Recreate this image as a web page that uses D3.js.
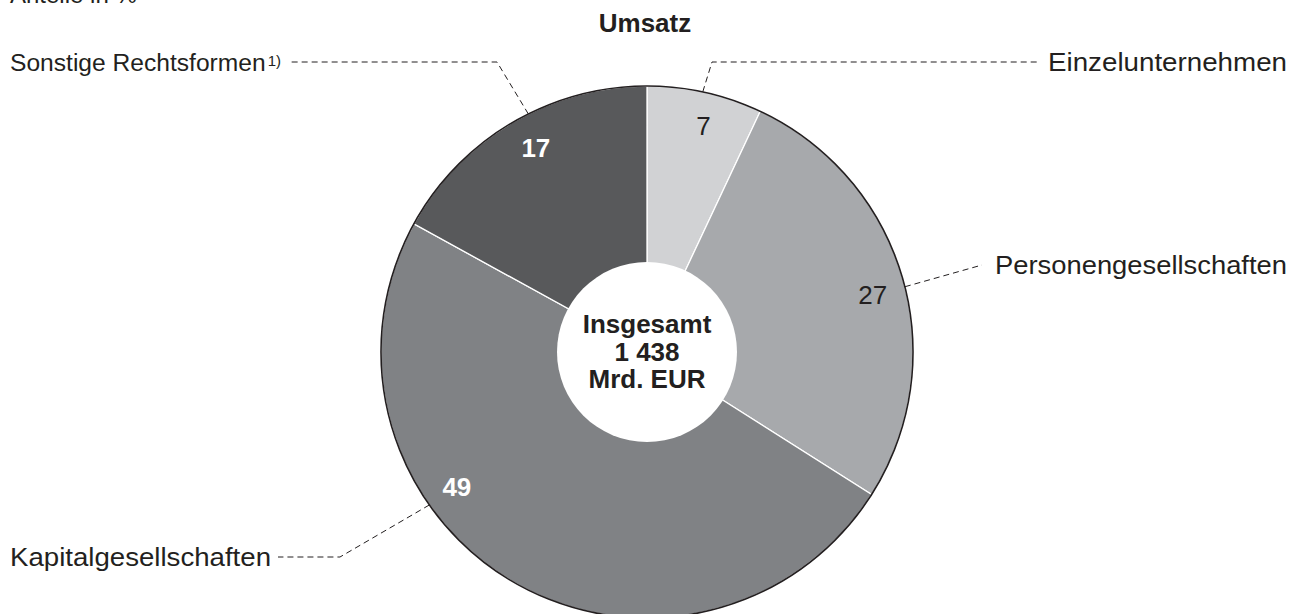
<!DOCTYPE html>
<html>
<head>
<meta charset="utf-8">
<script src="https://cdn.jsdelivr.net/npm/d3@7"></script>
<style>
  body { margin: 0; background: #fff; }
  text { font-family: "Liberation Sans", Arial, sans-serif; fill: #231f20; }
</style>
</head>
<body>
<div class="chart"></div>
<script>
// data
var categories = ["Einzelunternehmen", "Personengesellschaften", "Kapitalgesellschaften", "Sonstige Rechtsformen"];
var shares = [7, 27, 49, 17];
var colors = ["#d1d2d4", "#a7a9ac", "#808285", "#58595b"];
var title = "Umsatz";
var unitNote = "Anteile in %";
var centerLines = ["Insgesamt", "1 438", "Mrd. EUR"];
var footnoteMark = "1)";

var svgWidth = 1299;
var svgHeight = 614;
var cx = 647, cy = 352;
var outerR = 266, innerR = 90;

var svg = d3.select(".chart")
  .append("svg")
  .attr("width", svgWidth)
  .attr("height", svgHeight);

var pie = d3.pie().sort(null).value(d => d);
var arcs = pie(shares);

var arc = d3.arc().innerRadius(0).outerRadius(outerR);

var g = svg.append("g")
  .attr("transform", `translate(${cx}, ${cy})`);

// slices
g.selectAll("path.slice")
  .data(arcs)
  .enter()
  .append("path")
  .attr("class", "slice")
  .attr("d", arc)
  .attr("fill", (d, i) => colors[i])
  .attr("stroke", "#fff")
  .attr("stroke-width", 1.3);

// outer ring line
g.append("circle")
  .attr("r", outerR)
  .attr("fill", "none")
  .attr("stroke", "#231f20")
  .attr("stroke-width", 1.6);

// hole
g.append("circle")
  .attr("r", innerR)
  .attr("fill", "#fff");

// value labels (angle in degrees, clockwise from top)
var labelAngle = [14, 75.7, 234.7, 331.5];
var labelR = 233;
function pt(deg, r) {
  var a = deg * Math.PI / 180;
  return [Math.sin(a) * r, -Math.cos(a) * r];
}
var darkSlice = (d, i) => i >= 2;

g.selectAll("text.val")
  .data(arcs)
  .enter()
  .append("text")
  .attr("class", "val")
  .attr("x", (d, i) => pt(labelAngle[i], labelR)[0])
  .attr("y", (d, i) => pt(labelAngle[i], labelR)[1])
  .attr("dy", "0.36em")
  .attr("text-anchor", "middle")
  .style("font-size", "26px")
  .style("font-weight", (d, i) => darkSlice(d, i) ? "bold" : "normal")
  .style("fill", (d, i) => darkSlice(d, i) ? "#fff" : "#231f20")
  .text(d => d.data);

// center text
g.selectAll("text.center")
  .data(centerLines)
  .enter()
  .append("text")
  .attr("class", "center")
  .attr("x", 0)
  .attr("y", (d, i) => -19 + i * 27.5)
  .attr("text-anchor", "middle")
  .style("font-size", "26px")
  .style("font-weight", "bold")
  .text(d => d);

// leader lines: start on the rim, then elbow, then end near the label
var leaderAngle = [12.1, 75.8, 234.9, 333.5];
var elbows = [[712, 62], [982, 265], [340, 557], [497, 62]];
var ends = [[1039, 62], null, [278, 557], [290, 62]];
var line = d3.line();

categories.forEach(function(c, i) {
  var p0 = pt(leaderAngle[i], outerR);
  var pts = [[cx + p0[0], cy + p0[1]], elbows[i]];
  if (ends[i]) pts.push(ends[i]);
  svg.append("path")
    .attr("d", line(pts))
    .attr("fill", "none")
    .attr("stroke", "#231f20")
    .attr("stroke-width", 1)
    .attr("stroke-dasharray", "6,4");
});

// category labels: x, y, anchor, width of the text in the reference
var labelPos = [[1287, 62, "end", 239], [1287, 265, "end", 292], [10, 557, "start", 261], [10, 62, "start", null]];
categories.forEach(function(c, i) {
  var t = svg.append("text")
    .attr("x", labelPos[i][0])
    .attr("y", labelPos[i][1])
    .attr("dy", "0.36em")
    .attr("text-anchor", labelPos[i][2])
    .style("font-size", labelPos[i][3] ? "26px" : "24.6px");
  if (labelPos[i][3]) {
    t.attr("textLength", labelPos[i][3])
      .attr("lengthAdjust", "spacingAndGlyphs")
      .text(c);
  } else {
    // "Sonstige Rechtsformen" carries the footnote mark
    t.append("tspan").text(c);
    t.append("tspan")
      .attr("dx", 2)
      .attr("dy", "-0.3em")
      .style("font-size", "15px")
      .text(footnoteMark);
  }
});

// title
svg.append("text")
  .attr("x", 645)
  .attr("y", 32)
  .attr("text-anchor", "middle")
  .style("font-size", "26px")
  .style("font-weight", "bold")
  .text(title);

// unit note, cut off at top as in the source
svg.append("text")
  .attr("x", 10)
  .attr("y", 3)
  .style("font-size", "24px")
  .text(unitNote);
</script>
</body>
</html>
